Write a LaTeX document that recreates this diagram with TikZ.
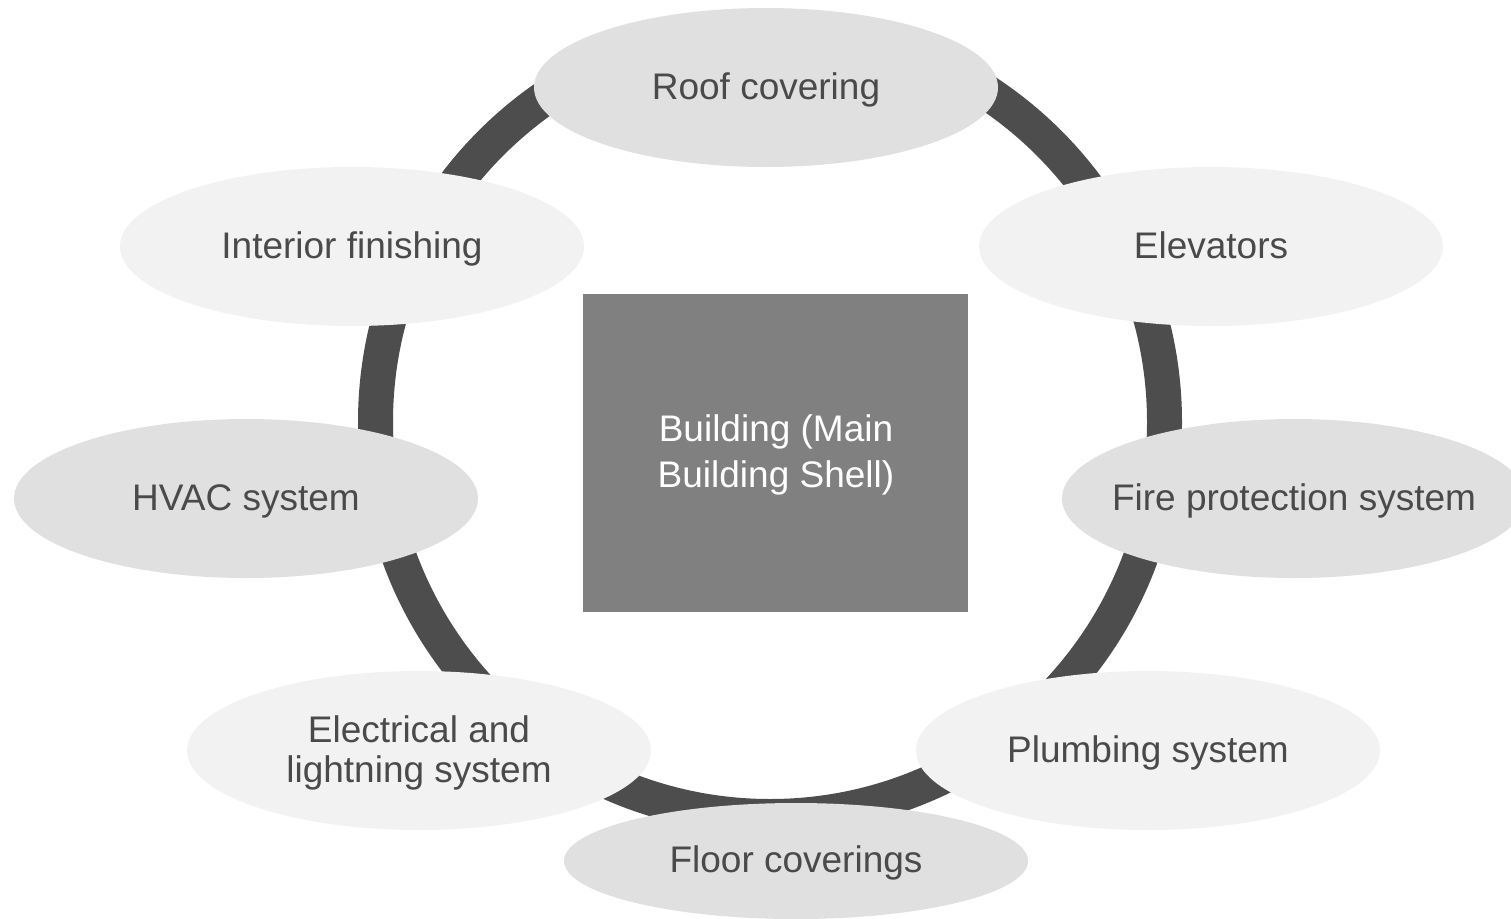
\documentclass[tikz,border=0pt]{standalone}
\usepackage{fontspec}
\setmainfont{Liberation Sans}
\usetikzlibrary{shapes.geometric}
\definecolor{ringc}{HTML}{4D4D4D}
\definecolor{darkfill}{HTML}{E0E0E0}
\definecolor{lightfill}{HTML}{F2F2F2}
\definecolor{boxfill}{HTML}{808080}
\definecolor{txt}{HTML}{4A4A4A}
\begin{document}
\begin{tikzpicture}[x=1pt,y=-1pt,
  oval/.style={ellipse, minimum width=464pt, minimum height=159pt, inner sep=0pt, outer sep=0pt},
  ovaldark/.style={oval, fill=darkfill},
  ovallight/.style={oval, fill=lightfill},
  lbl/.style={text=txt, font=\fontsize{37}{40}\selectfont, align=center, inner sep=0pt},
  onelbl/.style={lbl, anchor=base, yshift=-11.5pt}]
\useasboundingbox (0,0) rectangle (1511,918);
% ring
\node[circle, draw=ringc, line width=35pt, minimum size=789pt, inner sep=0pt] (ring) at (770,422) {};
% ellipses
\node[ovaldark]  (roof)  at (766,87.5) {};
\node[ovallight] (elev)  at (1211,246.5) {};
\node[ovaldark]  (fire)  at (1294,498.5) {};
\node[ovallight] (plumb) at (1148,750.5) {};
\node[ovaldark, minimum height=116pt] (floor) at (796,861) {};
\node[ovallight] (elec)  at (419,750.5) {};
\node[ovaldark]  (hvac)  at (246,498.5) {};
\node[ovallight] (inter) at (352,246.5) {};
% labels
\node[onelbl] (roofT)  at (roof)  {Roof covering};
\node[onelbl] (elevT)  at (elev)  {Elevators};
\node[onelbl] (fireT)  at (fire)  {Fire protection system};
\node[onelbl] (plumbT) at (plumb) {Plumbing system};
\node[onelbl] (floorT) at (floor) {Floor coverings};
\node[lbl, yshift=-2pt] (elecT)  at (elec)  {Electrical and\\lightning system};
\node[onelbl] (hvacT)  at (hvac)  {HVAC system};
\node[onelbl] (interT) at (inter) {Interior finishing};
% centre box
\node[rectangle, fill=boxfill, minimum width=385pt, minimum height=318pt, inner sep=0pt] (core) at (775.5,453) {};
\node[lbl, text=white, font=\fontsize{37}{46}\selectfont] (coreT) at (776,455) {Building (Main\\Building Shell)};
\end{tikzpicture}
\end{document}
